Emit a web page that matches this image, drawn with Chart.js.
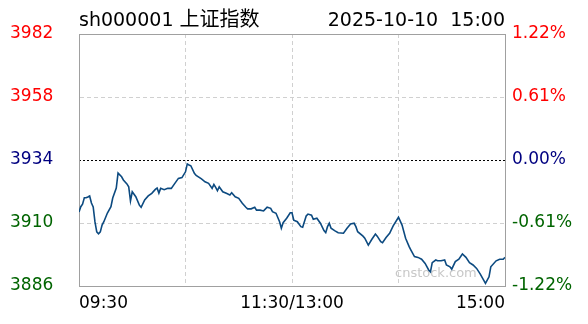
<!DOCTYPE html>
<html>
<head>
<meta charset="utf-8">
<script src="https://cdn.jsdelivr.net/npm/chart.js@4/dist/chart.umd.min.js"></script>
<style>
  html, body { margin: 0; padding: 0; background: #ffffff; }
  #wrap { width: 588px; height: 324px; position: relative; }
</style>
</head>
<body>
<div id="wrap"><canvas id="c" width="588" height="324"></canvas></div>
<script>
// ---- data ----
const titleCode = 'sh000001 ';
const titleName = '上证指数';
const titleDate = '2025-10-10  15:00';
const watermark = 'cnstock.com';
const prevClose = 3934;

const minutes = [
  0,1,2,3,4,5,6,7,8,9,
  10,11,12,13,14,16,18,19,21,22,
  24,25,27,28,29,30,32,34,35,37,
  39,41,43,44,45,46,48,50,52,54,
  56,58,60,61,62,63,65,66,69,71,
  73,75,76,77,78,79,81,83,85,86,
  88,90,92,94,95,97,99,100,102,104,
  106,108,109,111,113,114,115,117,119,120,
  121,123,125,126,128,129,131,132,134,136,
  138,139,140,141,142,144,146,149,151,153,
  155,156,157,160,161,163,165,167,168,170,
  171,173,175,177,180,182,184,186,187,189,
  191,193,195,197,198,199,201,202,204,206,
  207,209,210,212,214,216,218,220,222,224,
  226,229,231,232,235,237,239,240
];
const prices = [
  3914.2,3916.2,3917.2,3919.6,3919.6,3919.9,3920.3,3917.6,3916.1,3910.4,
  3906.6,3905.9,3906.6,3909.2,3910.5,3913.8,3916.2,3919.5,3923.3,3929.0,
  3927.6,3926.4,3924.9,3923.8,3918.4,3921.9,3920.0,3916.8,3916.0,3918.8,
  3920.3,3921.3,3922.8,3923.3,3921.4,3923.2,3922.7,3923.2,3923.2,3925.1,
  3927.0,3927.3,3929.5,3932.5,3932.1,3931.8,3928.9,3928.1,3926.8,3925.7,
  3925.1,3923.2,3924.7,3923.6,3922.3,3923.8,3921.9,3921.3,3920.7,3921.5,
  3920.0,3919.4,3917.5,3916.0,3915.4,3915.4,3916.0,3914.9,3914.9,3914.6,
  3916.0,3915.6,3914.3,3913.7,3910.5,3908.0,3910.1,3911.8,3913.9,3913.9,
  3911.1,3910.5,3908.6,3908.4,3912.7,3913.4,3913.0,3911.4,3911.8,3909.9,
  3907.1,3906.3,3908.6,3909.9,3908.0,3907.1,3906.3,3906.1,3908.0,3909.6,
  3909.9,3908.6,3906.7,3905.0,3904.2,3901.6,3903.8,3905.8,3905.0,3902.9,
  3902.5,3904.5,3906.1,3908.9,3912.2,3909.2,3904.2,3901.0,3899.7,3897.2,
  3896.9,3896.2,3894.6,3892.1,3891.4,3894.9,3895.9,3895.6,3895.6,3895.9,
  3894.0,3893.3,3892.4,3895.3,3896.2,3898.2,3896.9,3894.9,3894.0,3892.7,
  3890.6,3887.0,3889.5,3893.3,3895.6,3896.2,3896.2,3896.9
];

const yTicks = [3886, 3910, 3934, 3958, 3982];
const leftLabels = ['3886', '3910', '3934', '3958', '3982'];
const rightLabels = ['-1.22%', '-0.61%', '0.00%', '0.61%', '1.22%'];
const xTicks = [0, 60, 120, 180, 240];
const xLabels = ['09:30', '', '11:30/13:00', '', '15:00'];

// ---- styles ----
const FONT = '"DejaVu Sans", Verdana, "Noto Sans CJK SC", sans-serif';
const CJK = '"Noto Sans CJK SC", sans-serif';
const RED = '#ff0000', NAVY = '#000080', GREEN = '#006400';
const labelColor = (v) => v > prevClose ? RED : (v < prevClose ? GREEN : NAVY);
const BORDER = '#a0a0a0';
const GRID = '#d0d0d0';

const decor = {
  id: 'decor',
  beforeDatasetsDraw(chart) {
    const { ctx, chartArea: a } = chart;
    ctx.save();
    ctx.strokeStyle = BORDER;
    ctx.lineWidth = 1;
    ctx.beginPath();
    const ty = Math.floor(a.top) + 0.5;
    ctx.moveTo(a.left, ty);
    ctx.lineTo(a.right, ty);
    ctx.stroke();
    ctx.fillStyle = '#c8c8c8';
    ctx.font = '13px ' + FONT;
    ctx.textAlign = 'left';
    ctx.textBaseline = 'alphabetic';
    ctx.fillText(watermark, a.left + 316, a.bottom - 9);
    ctx.restore();
  },
  afterDraw(chart) {
    const { ctx, chartArea: a } = chart;
    ctx.save();
    ctx.fillStyle = '#000';
    ctx.textBaseline = 'alphabetic';
    ctx.textAlign = 'left';
    ctx.font = '19px ' + FONT;
    ctx.fillText(titleCode, a.left, 26);
    const w = ctx.measureText(titleCode).width;
    ctx.font = '20px ' + CJK;
    ctx.fillText(titleName, a.left + w, 26);
    ctx.font = '19px ' + FONT;
    ctx.textAlign = 'right';
    ctx.fillText(titleDate, a.right, 26);
    ctx.restore();
  }
};

const setTicks = (vals) => (scale) => { scale.ticks = vals.map(v => ({ value: v })); };

new Chart(document.getElementById('c'), {
  type: 'line',
  data: {
    datasets: [{
      data: minutes.map((m, i) => ({ x: m, y: prices[i] })),
      borderColor: '#0c4a80',
      borderWidth: 1.6,
      pointRadius: 0,
      tension: 0,
      fill: false,
      xAxisID: 'x',
      yAxisID: 'y'
    }]
  },
  options: {
    responsive: false,
    animation: false,
    layout: { padding: { top: 34, left: 10, right: 0, bottom: 0 } },
    plugins: { legend: { display: false }, tooltip: { enabled: false }, title: { display: false } },
    scales: {
      x: {
        type: 'linear', min: 0, max: 240,
        afterBuildTicks: setTicks(xTicks),
        afterFit: (s) => { s.height = 38; },
        ticks: {
          align: 'inner', maxRotation: 0, autoSkip: false, padding: 7,
          color: '#000', font: { size: 17, family: FONT },
          callback: (v, i) => xLabels[i]
        },
        grid: {
          drawTicks: false, lineWidth: 1,
          color: (c) => (c.index === 0 || c.index === xTicks.length - 1) ? 'transparent' : GRID
        },
        border: { display: true, color: BORDER, dash: [4, 3] }
      },
      y: {
        position: 'left', min: 3886, max: 3982,
        afterBuildTicks: setTicks(yTicks),
        afterFit: (s) => { s.width = 69; },
        ticks: {
          crossAlign: 'far', padding: 0,
          font: { size: 17, family: FONT },
          color: (c) => labelColor(yTicks[c.index]),
          callback: (v, i) => leftLabels[i]
        },
        grid: {
          drawTicks: false, lineWidth: 1,
          color: (c) => {
            const v = c.tick ? c.tick.value : null;
            return (v === yTicks[0] || v === yTicks[yTicks.length - 1] || v === prevClose) ? 'transparent' : GRID;
          }
        },
        border: { display: true, color: BORDER, dash: [4, 3] }
      },
      y2: {
        position: 'right', min: 3886, max: 3982,
        afterBuildTicks: setTicks(yTicks),
        afterFit: (s) => { s.width = 83; },
        ticks: {
          padding: 7,
          font: { size: 17, family: FONT },
          color: (c) => labelColor(yTicks[c.index]),
          callback: (v, i) => rightLabels[i]
        },
        grid: {
          drawTicks: false, lineWidth: 1,
          color: (c) => (c.tick && c.tick.value === prevClose) ? '#000000' : 'transparent'
        },
        border: { display: true, color: BORDER, dash: [2, 2] }
      }
    }
  },
  plugins: [decor]
});
</script>
</body>
</html>
